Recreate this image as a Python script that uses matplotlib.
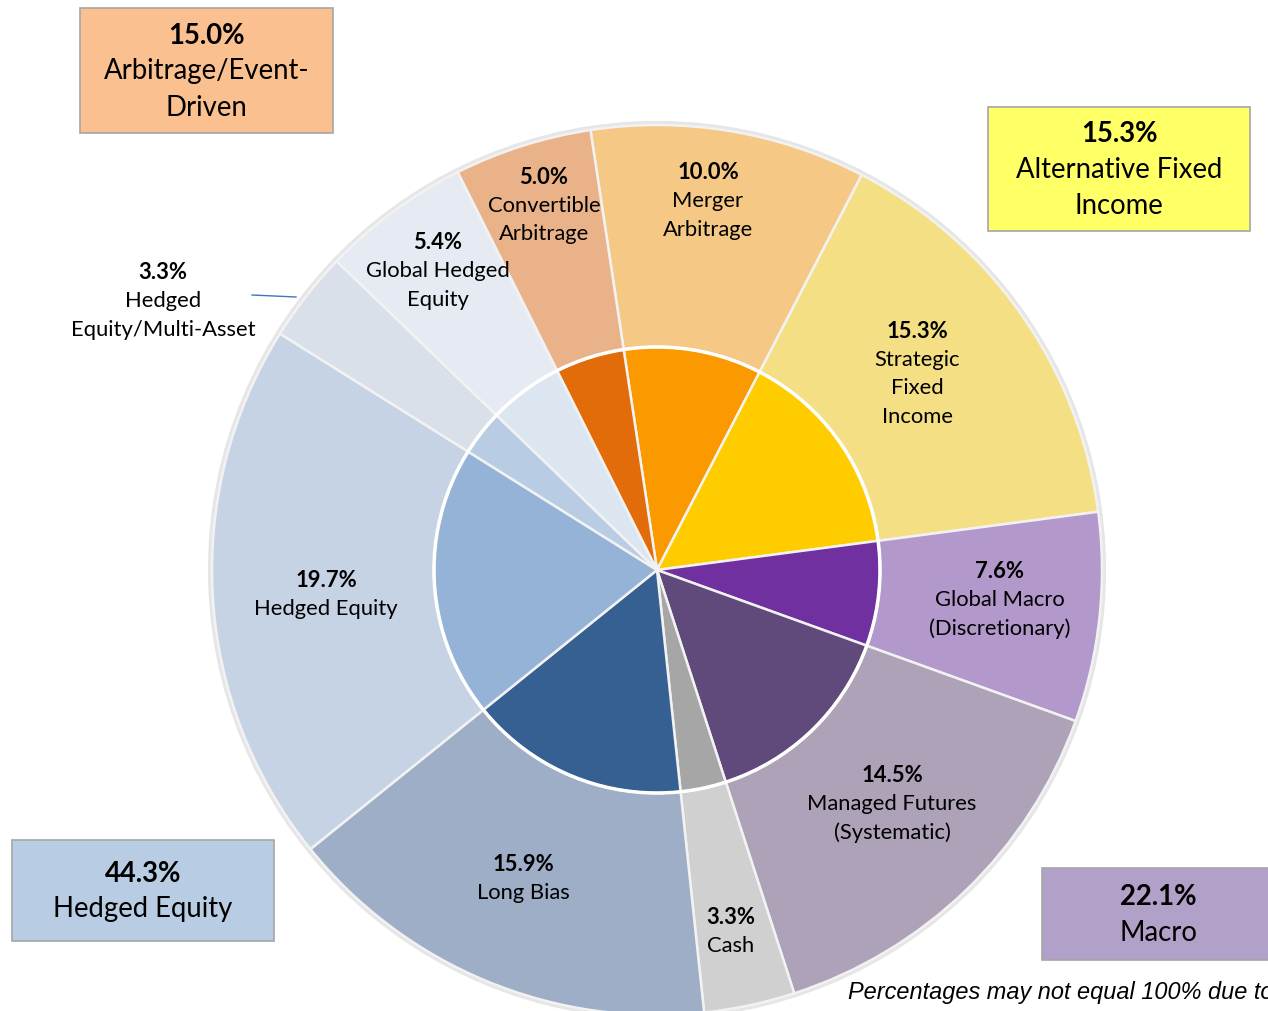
import matplotlib.pyplot as plt
from matplotlib.patches import Circle, Rectangle

# strategies, clockwise from the top
strategies = ['Merger\nArbitrage', 'Strategic\nFixed\nIncome', 'Global Macro\n(Discretionary)',
              'Managed Futures\n(Systematic)', 'Cash', 'Long Bias', 'Hedged Equity',
              'Hedged\nEquity/Multi-Asset', 'Global Hedged\nEquity', 'Convertible\nArbitrage']
weights = [10.0, 15.3, 7.6, 14.5, 3.3, 15.9, 19.7, 3.3, 5.4, 5.0]
groups = ['Arbitrage', 'Fixed', 'Macro', 'Macro', 'Cash', 'Equity', 'Equity', 'Equity', 'Equity', 'Arbitrage']

group_names = ['Arbitrage', 'Fixed', 'Equity', 'Macro']
group_titles = ['Arbitrage/Event-\nDriven', 'Alternative Fixed\nIncome', 'Hedged Equity', 'Macro']

outer_colors = ['#F5C886', '#F5DF84', '#B398CB', '#ADA2B8', '#D0D0D0',
                '#9DAEC6', '#C6D3E5', '#D9E0EA', '#E6EAF2', '#E9B288']
inner_colors = ['#FB9A00', '#FFCC00', '#7030A0', '#604A7B', '#A6A6A6',
                '#366092', '#95B3D7', '#B8CCE4', '#DCE6F1', '#E26B0A']
box_colors = ['#FAC090', '#FFFF66', '#B8CCE4', '#B1A0C7']

W, H = 1268, 1011
fig = plt.figure(figsize=(W / 100, H / 100), dpi=100)
ax = fig.add_axes([0, 0, 1, 1])

cx, cy = 657, H - 570
R_out, R_in = 445, 223
label_font = 'Lato'

# faint halo round the outer ring
ax.add_patch(Circle((cx, cy), R_out + 2, facecolor='none', edgecolor='#e6e6e6', lw=3, zorder=0))

ax.pie(weights, radius=R_out, center=(cx, cy), startangle=98.6, counterclock=False,
       colors=outer_colors, wedgeprops=dict(width=R_out - R_in, edgecolor='#f2f2f2', linewidth=1.8))
ax.pie(weights, radius=R_in, center=(cx, cy), startangle=98.6, counterclock=False,
       colors=inner_colors, wedgeprops=dict(edgecolor='#f2f2f2', linewidth=1.8))
ax.add_patch(Circle((cx, cy), R_in, facecolor='none', edgecolor='white', lw=2.5, zorder=5))

ax.set_xlim(0, W)
ax.set_ylim(0, H)
ax.set_aspect('equal')
ax.axis('off')

# label block centres (image pixels)
label_pos = [(708, 201), (917, 374), (1000, 600), (892, 804), (731, 932),
             (523, 879), (326, 595), (163, 301), (438, 271), (544, 206)]
line_h = 28.5
for name, w, (x, y) in zip(strategies, weights, label_pos):
    lines = [f'{w:.1f}%'] + name.split('\n')
    top = y - line_h * (len(lines) - 1) / 2
    for i, ln in enumerate(lines):
        ax.text(x, H - (top + i * line_h), ln, ha='center', va='center', fontsize=15.8,
                family=label_font, fontweight='bold' if i == 0 else 'normal', zorder=10)

# leader line for the small multi-asset slice
ax.plot([252, 296], [H - 295, H - 297], color='#4472C4', lw=1, zorder=10)

# group boxes: (x0, y0, x1, y1) in image pixels
boxes = [(80, 8, 333, 133), (988, 107, 1250, 231), (12, 840, 274, 941), (1042, 868, 1290, 960)]
box_line_h = 36
for g, title, col, (x0, y0, x1, y1) in zip(group_names, group_titles, box_colors, boxes):
    total = sum(w for w, gg in zip(weights, groups) if gg == g)
    ax.add_patch(Rectangle((x0, H - y1), x1 - x0, y1 - y0, facecolor=col,
                           edgecolor='#A6A6A6', lw=1.2, zorder=8, clip_on=False))
    lines = [f'{total:.1f}%'] + title.split('\n')
    xc = (x0 + min(x1, 1274)) / 2
    yc = (y0 + y1) / 2 + 1
    top = yc - box_line_h * (len(lines) - 1) / 2
    for i, ln in enumerate(lines):
        ax.text(xc, H - (top + i * box_line_h), ln, ha='center', va='center', fontsize=19.8,
                family=label_font, fontweight='bold' if i == 0 else 'normal', zorder=10)

ax.text(848, H - 993, 'Percentages may not equal 100% due to rounding.', ha='left', va='center',
        fontsize=16.9, family='Liberation Sans', style='italic', zorder=10)

fig.savefig('out.png', dpi=100)
